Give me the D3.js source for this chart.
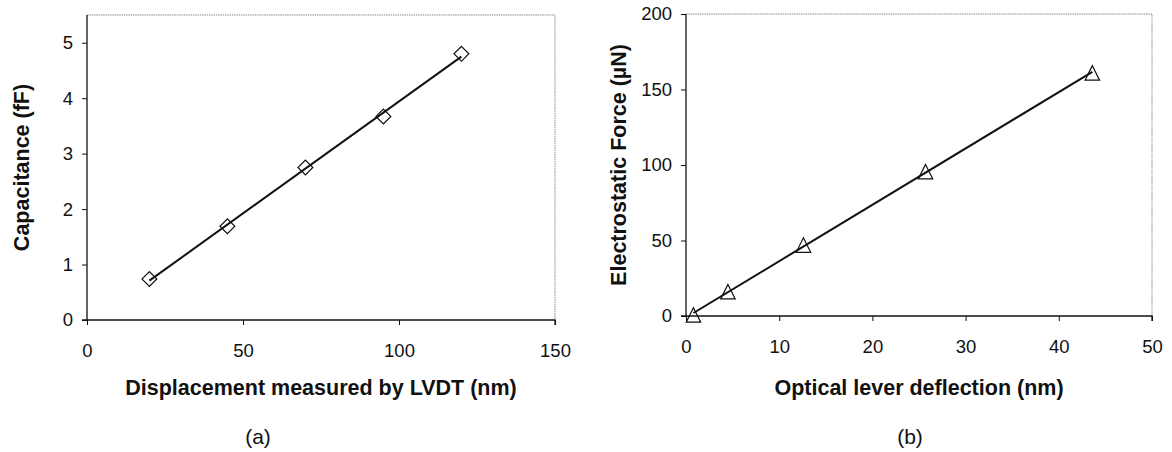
<!DOCTYPE html>
<html>
<head>
<meta charset="utf-8">
<script src="https://cdn.jsdelivr.net/npm/d3@7"></script>
<style>
  html, body { margin: 0; padding: 0; background: #fff; }
  svg { display: block; }
  text { font-family: Arial, "Liberation Sans", sans-serif; fill: #111; }
</style>
</head>
<body>
<svg id="chart" width="1172" height="452"></svg>
<script>
// ---- Data (a) ----
const dispLVDT = [20, 45, 70, 95, 120];
const capacitance = [0.74, 1.69, 2.75, 3.67, 4.80];
const xTicksA = [0, 50, 100, 150];
const yTicksA = [0, 1, 2, 3, 4, 5];

// ---- Data (b) ----
const opticalDefl = [0.8, 4.5, 12.6, 25.7, 43.6];
const elecForce = [0.7, 16.1, 47, 95.6, 161];
const xTicksB = [0, 10, 20, 30, 40, 50];
const yTicksB = [0, 50, 100, 150, 200];

const svg = d3.select("#chart");

// Triangle symbol centered on bounding box (Excel-like)
const triangleBox = {
  draw(ctx, size) {
    const w = Math.sqrt(size);
    const h = w;
    ctx.moveTo(0, -h / 2);
    ctx.lineTo(w / 2, h / 2);
    ctx.lineTo(-w / 2, h / 2);
    ctx.closePath();
  }
};

function fit(xs, ys) {
  const mx = d3.mean(xs), my = d3.mean(ys);
  const sxy = d3.sum(xs, (x, i) => (x - mx) * (ys[i] - my));
  const sxx = d3.sum(xs, x => (x - mx) * (x - mx));
  const b = sxy / sxx;
  return { b, a: my - b * mx };
}

function panel(opt) {
  const { left, right, top, bottom, xDomain, yDomain, xTicks, yTicks, xs, ys,
          symbol, symSize, rotate, xTitle, yTitle, yTitleX, label, labelX } = opt;
  const g = svg.append("g");
  const x = d3.scaleLinear().domain(xDomain).range([left, right]);
  const y = d3.scaleLinear().domain(yDomain).range([bottom, top]);

  // frame top/right (dotted gray)
  g.append("path")
    .attr("d", `M${left},${top}H${right}V${bottom}`)
    .attr("fill", "none").attr("stroke", "#8a8a8a")
    .attr("stroke-width", 1).attr("stroke-dasharray", "1.5,0.8");

  // axes
  const ya = g.append("g").attr("transform", `translate(${left},0)`)
    .call(d3.axisLeft(y).tickValues(yTicks).tickSize(5).tickPadding(9).tickFormat(d3.format("d")));
  const xa = g.append("g").attr("transform", `translate(0,${bottom})`)
    .call(d3.axisBottom(x).tickValues(xTicks).tickSize(5).tickPadding(19).tickFormat(d3.format("d")));
  [ya, xa].forEach(a => {
    a.select(".domain").attr("stroke", "#111").attr("stroke-width", 1.3);
    a.selectAll(".tick line").attr("stroke", "#111").attr("stroke-width", 1);
    a.selectAll("text").style("font-size", "18.5px").style("font-family", "Arial, 'Liberation Sans', sans-serif").attr("fill", "#111");
  });
  ya.select(".domain").attr("d", `M0,${top}V${bottom}`);
  xa.select(".domain").attr("d", `M${left - 5},0H${right}V5`);

  // trend line
  const f = fit(xs, ys);
  const xe = d3.extent(xs);
  g.append("path")
    .datum(xe.map(v => [v, f.a + f.b * v]))
    .attr("d", d3.line().x(d => x(d[0])).y(d => y(d[1])))
    .attr("fill", "none").attr("stroke", "#111").attr("stroke-width", 2);

  // markers
  g.selectAll("path.mk").data(xs.map((v, i) => [v, ys[i]])).enter()
    .append("path").attr("class", "mk")
    .attr("d", d3.symbol().type(symbol).size(symSize))
    .attr("transform", d => `translate(${x(d[0])},${y(d[1])}) rotate(${rotate})`)
    .attr("fill", "none").attr("stroke", "#111").attr("stroke-width", 1.2);

  // titles
  g.append("text").attr("x", (left + right) / 2).attr("y", 395)
    .attr("text-anchor", "middle").style("font-size", "21.5px").style("font-weight", "bold")
    .text(xTitle);
  g.append("text")
    .attr("transform", `translate(${yTitleX},${(top + bottom) / 2}) rotate(-90)`)
    .attr("text-anchor", "middle").style("font-size", "21.5px").style("font-weight", "bold")
    .text(yTitle);
  g.append("text").attr("x", labelX).attr("y", 444)
    .attr("text-anchor", "middle").style("font-size", "21px")
    .text(label);
}

panel({
  left: 87, right: 555, top: 15, bottom: 320,
  xDomain: [0, 150], yDomain: [0, 5.5], xTicks: xTicksA, yTicks: yTicksA,
  xs: dispLVDT, ys: capacitance,
  symbol: d3.symbolSquare, symSize: 110, rotate: 45,
  xTitle: "Displacement measured by LVDT (nm)", yTitle: "Capacitance (fF)",
  yTitleX: 29, label: "(a)", labelX: 258
});

panel({
  left: 686, right: 1152, top: 14, bottom: 316,
  xDomain: [0, 50], yDomain: [0, 200], xTicks: xTicksB, yTicks: yTicksB,
  xs: opticalDefl, ys: elecForce,
  symbol: triangleBox, symSize: 210, rotate: 0,
  xTitle: "Optical lever deflection (nm)", yTitle: "Electrostatic Force (\u00b5N)",
  yTitleX: 626, label: "(b)", labelX: 910
});
</script>
</body>
</html>
